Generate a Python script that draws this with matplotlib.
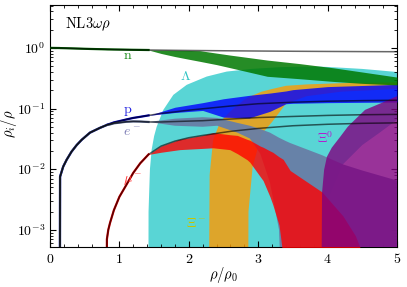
import numpy as np
import matplotlib
matplotlib.use("Agg")
import matplotlib.pyplot as plt
from matplotlib.ticker import FixedLocator, LogLocator, NullFormatter

plt.rcParams["mathtext.fontset"] = "cm"
plt.rcParams["font.family"] = ["DejaVu Serif"]

# nucleonic (no hyperons) curves
x_nuc = [0.0, 0.14, 0.145, 0.19, 0.24, 0.31, 0.385, 0.457, 0.576, 0.72, 0.81, 0.82,
         0.84, 0.865, 0.92, 1.0, 1.1, 1.2, 1.3, 1.42, 1.6, 1.8, 2.0, 2.2, 2.6, 3.0,
         3.5, 4.0, 4.5, 5.0]
n_nuc = [1.0, 0.995, 0.993, 0.99, 0.987, 0.982, 0.976, 0.97, 0.961, 0.952, 0.947, 0.946,
         0.945, 0.944, 0.941, 0.938, 0.934, 0.93, 0.927, 0.923, 0.918, 0.912, 0.907,
         0.903, 0.895, 0.888, 0.88, 0.874, 0.869, 0.865]
p_nuc = [1e-6, 1e-6, 0.0075, 0.011, 0.0143, 0.0194, 0.025, 0.0305, 0.04, 0.048, 0.053,
         0.054, 0.055, 0.056, 0.059, 0.062, 0.066, 0.07, 0.073, 0.077, 0.083, 0.088,
         0.094, 0.099, 0.11, 0.12, 0.127, 0.132, 0.135, 0.137]
e_nuc = [1e-6, 1e-6, 0.0075, 0.011, 0.0143, 0.0194, 0.025, 0.0305, 0.04, 0.048, 0.053,
         0.0533, 0.054, 0.0547, 0.057, 0.0585, 0.0605, 0.0613, 0.061, 0.06, 0.06, 0.061,
         0.062, 0.063, 0.067, 0.071, 0.074, 0.077, 0.079, 0.08]
mu_nuc = [1e-6, 1e-6, 1e-6, 1e-6, 1e-6, 1e-6, 1e-6, 1e-6, 1e-6, 1e-6, 1e-6, 7e-4,
          1.0e-3, 1.3e-3, 2.1e-3, 3.5e-3, 5.5e-3, 8.7e-3, 0.0125, 0.0175, 0.024, 0.029,
          0.033, 0.036, 0.042, 0.047, 0.052, 0.055, 0.057, 0.058]

# bands (range over models)
x_n = [0.0, 1.42, 1.6, 1.8, 2.0, 2.16, 2.4, 2.6, 3.13, 3.6, 4.08, 4.5, 5.0]
n_hi = [1.0, 0.923, 0.918, 0.912, 0.907, 0.90, 0.82, 0.76, 0.63, 0.55, 0.47, 0.40, 0.33]
n_lo = [1.0, 0.923, 0.81, 0.72, 0.65, 0.6, 0.53, 0.47, 0.34, 0.31, 0.28, 0.26, 0.245]

x_lam = [1.415, 1.42, 1.44, 1.465, 1.50, 1.537, 1.633, 1.777, 1.97, 2.258, 2.546, 2.9,
         3.3, 3.6, 3.9, 4.0, 4.22, 4.5, 4.75, 5.0]
lam_hi = [1e-6, 0.002, 0.01, 0.021, 0.035, 0.05, 0.095, 0.168, 0.246, 0.337, 0.407, 0.45,
          0.48, 0.49, 0.49, 0.485, 0.47, 0.45, 0.425, 0.40]
lam_lo = [1e-6, 1e-6, 1e-6, 1e-6, 1e-6, 1e-6, 1e-6, 1e-6, 1e-6, 1e-6, 1e-6, 1e-6,
          1e-6, 1e-6, 1e-6, 0.003, 0.012, 0.025, 0.04, 0.065]

x_pb = [1.42, 1.8, 2.2, 2.5, 2.87, 3.17, 3.4, 3.5, 4.0, 5.0]
p_hi = [0.077, 0.105, 0.125, 0.145, 0.165, 0.18, 0.195, 0.205, 0.23, 0.25]
p_lo = [0.077, 0.086, 0.093, 0.072, 0.07, 0.09, 0.12, 0.122, 0.125, 0.128]

x_eb = [1.42, 1.8, 2.2, 2.41, 2.7, 2.88, 3.03, 3.17, 3.3, 3.4, 3.46, 3.92, 4.22, 4.5, 5.0]
e_hi = [0.06, 0.068, 0.072, 0.07, 0.058, 0.052, 0.046, 0.04, 0.033, 0.029, 0.027,
        0.017, 0.012, 0.0095, 0.0065]
e_lo = [0.06, 0.052, 0.05, 0.052, 0.04, 0.032, 0.018, 0.006, 0.001, 1e-6, 1e-6,
        1e-6, 1e-6, 1e-6, 1e-6]

x_mu = [0.81, 0.82, 0.84, 0.865, 0.92, 1.0, 1.1, 1.2, 1.3, 1.42, 1.6, 1.87, 2.2, 2.35,
        2.59, 2.7, 2.84, 2.88, 3.03, 3.07, 3.17, 3.21, 3.3, 3.34, 3.36, 3.46, 3.92,
        4.22, 4.4, 4.47, 4.5]
mu_hi = [1e-6, 7e-4, 1.0e-3, 1.3e-3, 2.1e-3, 3.5e-3, 5.5e-3, 8.7e-3, 0.0125, 0.0175,
         0.024, 0.031, 0.036, 0.04, 0.037, 0.036, 0.031, 0.03, 0.024, 0.023, 0.02, 0.019,
         0.016, 0.015, 0.0145, 0.0095, 0.0042, 0.0017, 8e-4, 5e-4, 1e-6]
mu_lo = [1e-6, 7e-4, 1.0e-3, 1.3e-3, 2.1e-3, 3.5e-3, 5.5e-3, 8.7e-3, 0.0125, 0.0175,
         0.019, 0.021, 0.022, 0.0225, 0.021, 0.018, 0.0143, 0.013, 0.0075, 0.0065,
         0.0035, 0.0026, 0.0012, 5.3e-4, 1e-6, 1e-6, 1e-6, 1e-6, 1e-6, 1e-6, 1e-6]

x_xi = [2.28, 2.30, 2.35, 2.45, 2.6, 2.8, 2.85, 2.86, 2.92, 3.05, 3.2, 3.4, 3.7, 4.2, 5.0]
xi_hi = [1e-6, 0.008, 0.03, 0.06, 0.09, 0.14, 0.15, 0.152, 0.165, 0.19, 0.21, 0.237,
         0.25, 0.262, 0.27]
xi_lo = [1e-6, 1e-6, 1e-6, 1e-6, 1e-6, 1e-6, 1e-6, 0.002, 0.011, 0.038, 0.06, 0.12,
         0.16, 0.19, 0.21]

x_x0 = [3.9, 3.92, 3.95, 3.99, 4.06, 4.18, 4.29, 4.42, 4.54, 4.78, 5.0]
x0_hi = [1e-6, 0.0041, 0.0098, 0.016, 0.0226, 0.034, 0.05, 0.07, 0.095, 0.124, 0.16]
x0_lo = [1e-6] * 11

fig = plt.figure(figsize=(4.07, 2.87), dpi=100)
ax = fig.add_axes([50 / 407, 40 / 287, 347 / 407, 242 / 287])

ax.fill_between(x_lam, lam_lo, lam_hi, color="#00bfbf", alpha=0.65, lw=0, zorder=1)
ax.fill_between(x_xi, xi_lo, xi_hi, color="#ff9a00", alpha=0.8, lw=0, zorder=2)
ax.fill_between(x_eb, e_lo, e_hi, color="#687ea6", alpha=0.95, lw=0, zorder=3)
ax.fill_between(x_mu, mu_lo, mu_hi, color="#ff0000", alpha=0.8, lw=0, zorder=4)
ax.fill_between(x_pb, p_lo, p_hi, color="#0000ff", alpha=0.8, lw=0, zorder=5)
ax.fill_between(x_n, n_lo, n_hi, color="#007800", alpha=0.85, lw=0, zorder=6)
ax.fill_between(x_x0, x0_lo, x0_hi, color="#800080", alpha=0.8, lw=0, zorder=7)

# common curves before hyperon onset
xn = np.array(x_nuc)
low = xn <= 1.42
ax.plot(xn[low], np.array(n_nuc)[low], color="#006000", lw=1.6, zorder=8)
ax.plot(xn[low], np.array(p_nuc)[low], color="#0000c0", lw=1.6, zorder=8)
ax.plot(xn[low], np.array(e_nuc)[low], color="#50608a", lw=1.6, zorder=8)
ax.plot(xn[low], np.array(mu_nuc)[low], color="#e00000", lw=1.6, zorder=8)
for yv in (n_nuc, p_nuc, e_nuc, mu_nuc):
    ax.plot(x_nuc, yv, color="k", lw=1.1, alpha=0.6, zorder=9)

ax.set_yscale("log")
ax.set_xlim(0, 5)
ax.set_ylim(5.2e-4, 5.1)

ax.xaxis.set_major_locator(FixedLocator([0, 1, 2, 3, 4, 5]))
ax.xaxis.set_minor_locator(FixedLocator(np.arange(0, 5.01, 0.2)))
ax.set_xticklabels([r"$0$", r"$1$", r"$2$", r"$3$", r"$4$", r"$5$"])
ax.set_yticks([1e-3, 1e-2, 1e-1, 1])
ax.set_yticklabels([r"$10^{-3}$", r"$10^{-2}$", r"$10^{-1}$", r"$10^{0}$"])
ax.yaxis.set_minor_locator(LogLocator(base=10, subs=np.arange(2, 10)))
ax.yaxis.set_minor_formatter(NullFormatter())
ax.tick_params(which="both", direction="in", top=True, right=True, labelsize=10)
ax.tick_params(which="major", length=4, width=0.8)
ax.tick_params(which="minor", length=2, width=0.6)

ax.set_xlabel(r"$\rho/\rho_0$", fontsize=10.5)
ax.set_ylabel(r"$\rho_i/\rho$", fontsize=10.5)
ax.xaxis.set_label_coords(0.4986, -0.075)
ax.yaxis.set_label_coords(-0.088, 0.51)

ax.text(0.22, 2.48, r"$\mathrm{NL3}\omega\rho$", fontsize=10.5, va="center", zorder=10)
ax.text(1.12, 0.77, r"$\mathrm{n}$", color="#1a8c1a", fontsize=10, ha="center", va="center", zorder=10)
ax.text(1.96, 0.345, r"$\Lambda$", color="#30c4c4", fontsize=10, ha="center", va="center", zorder=10)
ax.text(1.12, 0.09, r"$\mathrm{p}$", color="#2020e0", fontsize=10, ha="center", va="center", zorder=10)
ax.text(1.18, 0.041, r"$e^-$", color="#7a7ab4", fontsize=10, ha="center", va="center", zorder=10)
ax.text(1.2, 0.0064, r"$\mu^-$", color="#ff3030", fontsize=10, ha="center", va="center", zorder=10)
ax.text(2.1, 0.00127, r"$\Xi^-$", color="#c8c400", fontsize=10, ha="center", va="center", zorder=10)
ax.text(3.97, 0.033, r"$\Xi^0$", color="#b020d0", fontsize=10, ha="center", va="center", zorder=10)

fig.savefig("out.png", dpi=100)
